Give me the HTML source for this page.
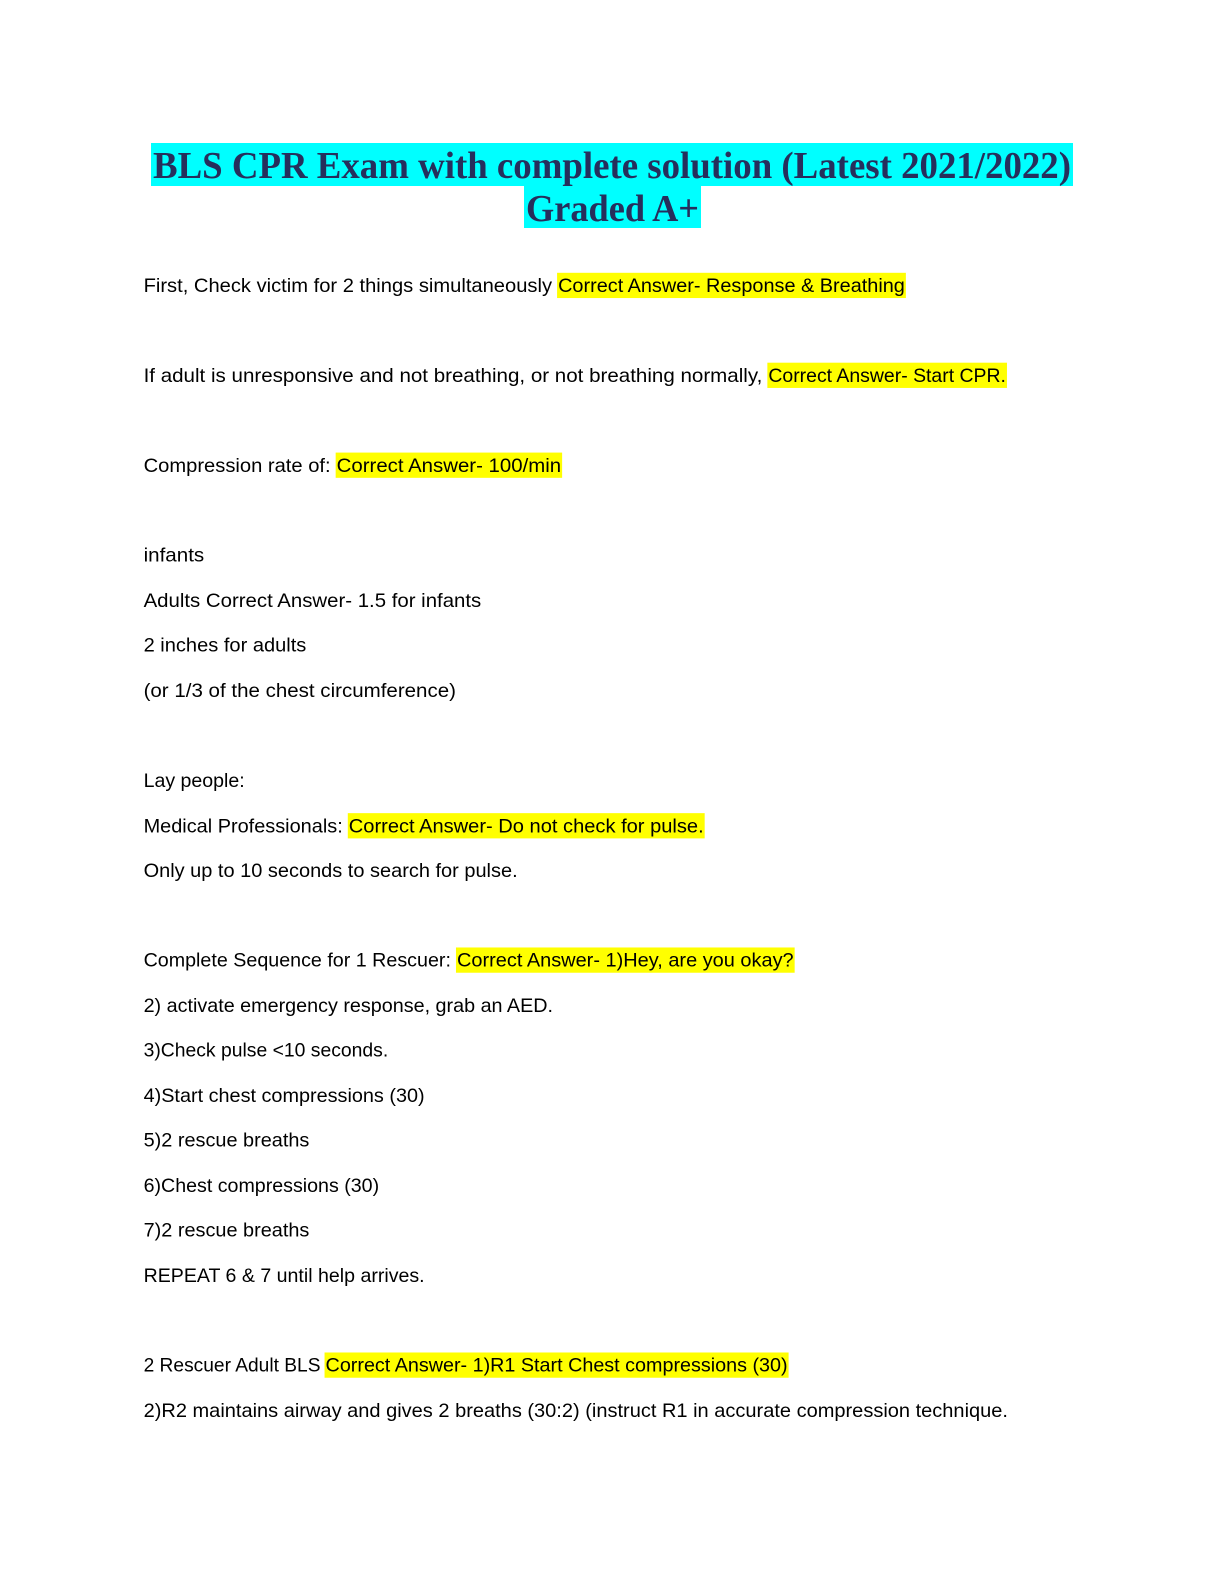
<!DOCTYPE html>
<html><head><meta charset="utf-8"><style>
html,body{margin:0;padding:0;background:#fff;overflow:hidden;width:1224px;height:1584px;}
svg{display:block}
.t{font-family:"Liberation Serif",serif;font-weight:bold;font-size:38px;fill:#262f5c}
.b{font-family:"Liberation Sans",sans-serif;font-size:19px;fill:#000}
</style></head><body>
<svg width="1224" height="1584" viewBox="0 0 1224 1584" xmlns="http://www.w3.org/2000/svg">
<rect x="151" y="143" width="922" height="43" fill="#00ffff"/>
<rect x="524" y="186" width="177" height="42" fill="#00ffff"/>
<text class="t" x="153" y="178" textLength="918" lengthAdjust="spacingAndGlyphs">BLS CPR Exam with complete solution (Latest 2021/2022)</text>
<text class="t" x="526" y="221" textLength="173" lengthAdjust="spacingAndGlyphs">Graded A+</text>

<g class="b" transform="matrix(1.011,0,0,1.010,-1,0.1)">
<rect x="552" y="270" width="345" height="25" fill="#ffff00"/>
<text x="143" y="289" textLength="404" lengthAdjust="spacingAndGlyphs">First, Check victim for 2 things simultaneously</text>
<text x="553" y="289" textLength="343" lengthAdjust="spacingAndGlyphs">Correct Answer- Response &amp; Breathing</text>

<rect x="760" y="359" width="237" height="25" fill="#ffff00"/>
<text x="143" y="378" textLength="612" lengthAdjust="spacingAndGlyphs">If adult is unresponsive and not breathing, or not breathing normally,</text>
<text x="761" y="378" textLength="235" lengthAdjust="spacingAndGlyphs">Correct Answer- Start CPR.</text>

<rect x="333" y="448" width="224" height="25" fill="#ffff00"/>
<text x="143" y="467" textLength="185" lengthAdjust="spacingAndGlyphs">Compression rate of:</text>
<text x="334" y="467" textLength="222" lengthAdjust="spacingAndGlyphs">Correct Answer- 100/min</text>

<text x="143" y="556" textLength="60" lengthAdjust="spacingAndGlyphs">infants</text>
<text x="143" y="601" textLength="334" lengthAdjust="spacingAndGlyphs">Adults Correct Answer- 1.5 for infants</text>
<text x="143" y="645" textLength="161" lengthAdjust="spacingAndGlyphs">2 inches for adults</text>
<text x="143" y="690" textLength="309" lengthAdjust="spacingAndGlyphs">(or 1/3 of the chest circumference)</text>

<text x="143" y="779" textLength="100" lengthAdjust="spacingAndGlyphs">Lay people:</text>
<rect x="345" y="805" width="353" height="25" fill="#ffff00"/>
<text x="143" y="824" textLength="197" lengthAdjust="spacingAndGlyphs">Medical Professionals:</text>
<text x="346" y="824" textLength="351" lengthAdjust="spacingAndGlyphs">Correct Answer- Do not check for pulse.</text>
<text x="143" y="868" textLength="370" lengthAdjust="spacingAndGlyphs">Only up to 10 seconds to search for pulse.</text>

<rect x="452" y="938" width="335" height="25" fill="#ffff00"/>
<text x="143" y="957" textLength="304" lengthAdjust="spacingAndGlyphs">Complete Sequence for 1 Rescuer:</text>
<text x="453" y="957" textLength="333" lengthAdjust="spacingAndGlyphs">Correct Answer- 1)Hey, are you okay?</text>
<text x="143" y="1002" textLength="405" lengthAdjust="spacingAndGlyphs">2) activate emergency response, grab an AED.</text>
<text x="143" y="1046" textLength="242" lengthAdjust="spacingAndGlyphs">3)Check pulse &lt;10 seconds.</text>
<text x="143" y="1091" textLength="278" lengthAdjust="spacingAndGlyphs">4)Start chest compressions (30)</text>
<text x="143" y="1135" textLength="164" lengthAdjust="spacingAndGlyphs">5)2 rescue breaths</text>
<text x="143" y="1180" textLength="233" lengthAdjust="spacingAndGlyphs">6)Chest compressions (30)</text>
<text x="143" y="1224" textLength="164" lengthAdjust="spacingAndGlyphs">7)2 rescue breaths</text>
<text x="143" y="1269" textLength="278" lengthAdjust="spacingAndGlyphs">REPEAT 6 &amp; 7 until help arrives.</text>

<rect x="322" y="1339" width="459" height="25" fill="#ffff00"/>
<text x="143" y="1358" textLength="175" lengthAdjust="spacingAndGlyphs">2 Rescuer Adult BLS</text>
<text x="323" y="1358" textLength="457" lengthAdjust="spacingAndGlyphs">Correct Answer- 1)R1 Start Chest compressions (30)</text>
<text x="143" y="1403" textLength="855" lengthAdjust="spacingAndGlyphs">2)R2 maintains airway and gives 2 breaths (30:2) (instruct R1 in accurate compression technique.</text>
</g>
</svg>
</body></html>
